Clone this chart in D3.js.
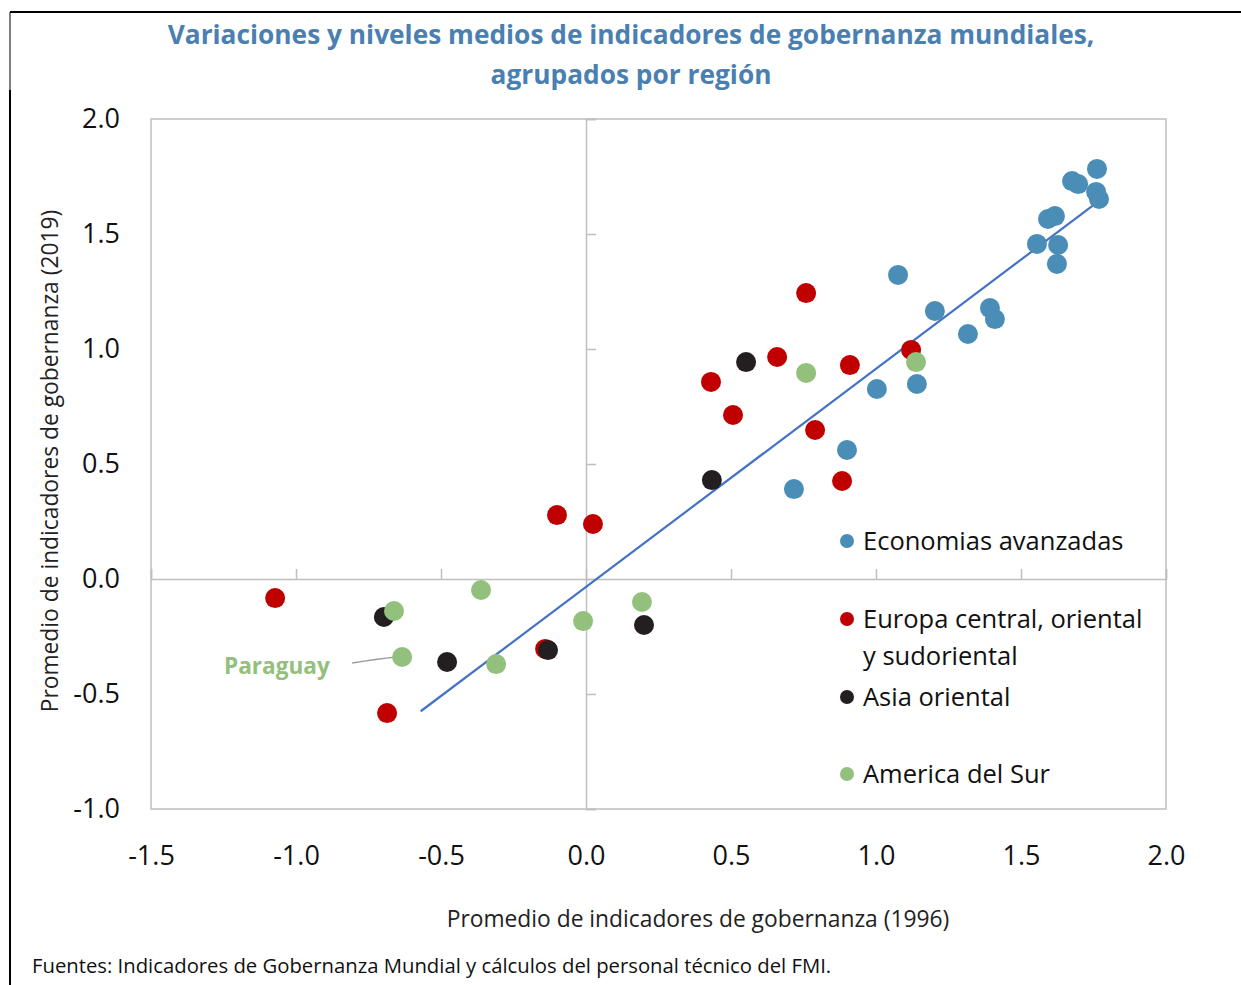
<!DOCTYPE html>
<meta charset="utf-8">
<script src="https://d3js.org/d3.v7.min.js"></script>
<style>
  body { margin: 0; background: #fff; font-family: "Open Sans", "Noto Sans", sans-serif; }
  svg { display: block; }
</style>
<body>
<div id="chart"></div>
<script>
// values: [1996, 2019]
var avanzadas = [[1.762,1.783],[1.676,1.730],[1.697,1.717],[1.759,1.683],[1.769,1.652],
  [1.593,1.565],[1.617,1.578],[1.555,1.457],[1.628,1.452],[1.624,1.370],[1.076,1.322],
  [1.203,1.165],[1.393,1.178],[1.410,1.130],[1.317,1.065],[1.003,0.826],[1.141,0.848],
  [0.900,0.561],[0.717,0.391]];
var europa = [[0.759,1.243],[0.659,0.965],[1.121,0.996],[0.910,0.930],[0.431,0.857],
  [0.507,0.713],[0.790,0.648],[0.883,0.426],[-0.100,0.278],[0.024,0.239],[-1.072,-0.083],
  [-0.141,-0.304],[-0.686,-0.583]];
var asia = [[0.552,0.943],[0.434,0.430],[-0.697,-0.165],[-0.479,-0.361],[-0.131,-0.309],[0.200,-0.200]];
var americaSur = [[0.759,0.896],[1.138,0.943],[-0.362,-0.048],[-0.662,-0.139],[-0.010,-0.183],
  [0.193,-0.100],[-0.634,-0.339],[-0.310,-0.370]];
var paraguay = [-0.634, -0.339];
var trendX = [-0.57, 1.76];
var trendY = [-0.575, 1.635];
var xTicks = [-1.5, -1.0, -0.5, 0.0, 0.5, 1.0, 1.5, 2.0];
var yTicks = [-1.0, -0.5, 0.0, 0.5, 1.0, 1.5, 2.0];

var series = [
  {name: ["Economias avanzadas"], color: "#4a8db6", pts: avanzadas, ly: 541},
  {name: ["Europa central, oriental", "y sudoriental"], color: "#c00000", pts: europa, ly: 619},
  {name: ["Asia oriental"], color: "#231f20", pts: asia, ly: 697},
  {name: ["America del Sur"], color: "#93c07c", pts: americaSur, ly: 774}
];

var W = 1241, H = 985;
var svg = d3.select("#chart").append("svg").attr("width", W).attr("height", H);

// frame
svg.append("line").attr("x1", 10).attr("x2", W).attr("y1", 12).attr("y2", 12)
  .attr("stroke", "#000").attr("stroke-width", 2);
svg.append("line").attr("x1", 10).attr("x2", 10).attr("y1", 12).attr("y2", 90)
  .attr("stroke", "#000").attr("stroke-width", 1);
svg.append("line").attr("x1", 10).attr("x2", 10).attr("y1", 90).attr("y2", H)
  .attr("stroke", "#000").attr("stroke-width", 2);

// title
var title = svg.append("text").attr("text-anchor", "middle")
  .style("font-weight", "bold").style("font-size", "26.3px").style("fill", "#4a80b1");
title.append("tspan").attr("x", 631).attr("y", 44).text("Variaciones y niveles medios de indicadores de gobernanza mundiales,");
title.append("tspan").attr("x", 631).attr("y", 84).text("agrupados por región");

var x = d3.scaleLinear().domain([-1.5, 2.0]).range([151, 1166]);
var y = d3.scaleLinear().domain([-1.0, 2.0]).range([809, 119]);

// plot area border
svg.append("rect").attr("x", x(-1.5)).attr("y", y(2.0))
  .attr("width", x(2.0) - x(-1.5)).attr("height", y(-1.0) - y(2.0))
  .attr("fill", "none").attr("stroke", "#bfbfbf").attr("stroke-width", 1.5);

// zero axes with inner ticks
var gx = svg.append("g").attr("transform", "translate(0," + y(0) + ")")
  .call(d3.axisTop(x).tickValues(xTicks).tickSize(10).tickFormat(""));
gx.select(".domain").attr("stroke", "#bfbfbf").attr("stroke-width", 1.5);
gx.selectAll(".tick line").attr("stroke", "#bfbfbf").attr("stroke-width", 1.5);

var gy = svg.append("g").attr("transform", "translate(" + x(0) + ",0)")
  .call(d3.axisRight(y).tickValues(yTicks).tickSize(10).tickFormat(""));
gy.select(".domain").attr("stroke", "#bfbfbf").attr("stroke-width", 1.5);
gy.selectAll(".tick line").attr("stroke", "#bfbfbf").attr("stroke-width", 1.5);

// tick labels on the outside (plain hyphen as in the source)
var fmt = function(d) { return d3.format(".1f")(d).replace("\u2212", "-"); };
var bx = svg.append("g").attr("transform", "translate(0,843)")
  .call(d3.axisBottom(x).tickValues(xTicks).tickSize(0).tickFormat(fmt));
bx.select(".domain").remove();
bx.selectAll("text").style("font-size", "27px").style("fill", "#111")
  .style("font-family", "'Open Sans', sans-serif");

var by = svg.append("g").attr("transform", "translate(120,0)")
  .call(d3.axisLeft(y).tickValues(yTicks).tickSize(0).tickFormat(fmt));
by.select(".domain").remove();
by.selectAll("text").style("font-size", "27px").style("fill", "#111")
  .style("font-family", "'Open Sans', sans-serif").attr("x", 0);

// axis titles
svg.append("text").attr("x", 698).attr("y", 927).attr("text-anchor", "middle")
  .style("font-size", "22.8px").style("fill", "#222")
  .text("Promedio de indicadores de gobernanza (1996)");
svg.append("text").attr("transform", "translate(58,461) rotate(-90)").attr("text-anchor", "middle")
  .style("font-size", "22.8px").style("fill", "#222")
  .text("Promedio de indicadores de gobernanza (2019)");

// source
svg.append("text").attr("x", 32).attr("y", 973)
  .style("font-size", "20.3px").style("fill", "#111")
  .text("Fuentes: Indicadores de Gobernanza Mundial y cálculos del personal técnico del FMI.");

// trend line
svg.append("line")
  .attr("x1", x(trendX[0])).attr("y1", y(trendY[0]))
  .attr("x2", x(trendX[1])).attr("y2", y(trendY[1]))
  .attr("stroke", "#4472c4").attr("stroke-width", 2.2);

// Paraguay label
svg.append("path")
  .attr("d", "M" + (x(paraguay[0]) - 50) + "," + (y(paraguay[1]) + 6) +
    " Q" + (x(paraguay[0]) - 25) + "," + (y(paraguay[1]) + 2) + " " + (x(paraguay[0]) - 6) + "," + y(paraguay[1]))
  .attr("fill", "none").attr("stroke", "#999").attr("stroke-width", 1.5);
svg.append("text").attr("x", 224).attr("y", 674)
  .style("font-size", "22.6px").style("font-weight", "bold").style("fill", "#93c07c")
  .text("Paraguay");

// points
series.forEach(function(s) {
  svg.append("g").selectAll("circle").data(s.pts).enter().append("circle")
    .attr("cx", function(d) { return x(d[0]); })
    .attr("cy", function(d) { return y(d[1]); })
    .attr("r", 10).attr("fill", s.color);
});

// legend
series.forEach(function(s) {
  svg.append("circle").attr("cx", 847).attr("cy", s.ly).attr("r", 7).attr("fill", s.color);
  var t = svg.append("text").style("font-size", "25.5px").style("fill", "#111");
  s.name.forEach(function(line, i) {
    t.append("tspan").attr("x", 863).attr("y", s.ly + 9 + i * 37).text(line);
  });
});
</script>
</body>
